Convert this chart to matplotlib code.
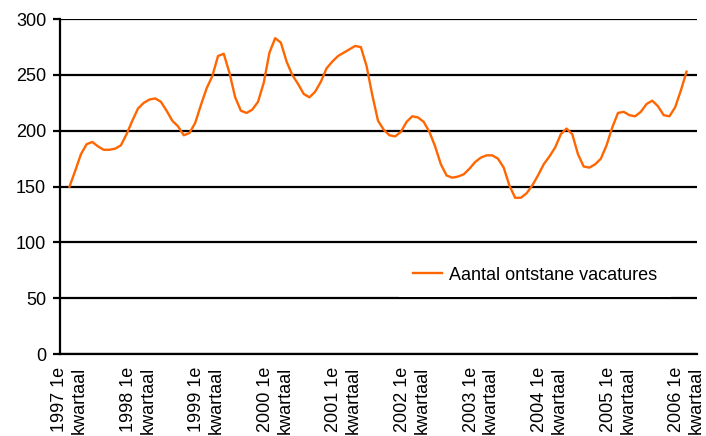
import matplotlib
matplotlib.use("Agg")
import matplotlib.pyplot as plt
import numpy as np

matplotlib.rcParams['font.family'] = ['Liberation Sans', 'DejaVu Sans']
matplotlib.rcParams['font.size'] = 13

# monthly values, January 1997 .. January 2006
vacatures = [
    150, 164, 179, 188, 190, 186, 183, 183, 184, 187, 197, 209,
    220, 225, 228, 229, 226, 218, 209, 204, 196, 198, 207, 223,
    238, 249, 267, 269, 252, 230, 218, 216, 219, 226, 243, 270,
    283, 279, 262, 250, 242, 233, 230, 235, 244, 256, 262, 267,
    270, 273, 276, 275, 258, 232, 209, 201, 196, 195, 199, 208,
    213, 212, 208, 199, 186, 170, 160, 158, 159, 161, 166, 172,
    176, 178, 178, 175, 167, 151, 140, 140, 144, 151, 160, 170,
    177, 185, 197, 202, 197, 179, 168, 167, 170, 175, 187, 203,
    216, 217, 214, 213, 217, 224, 227, 222, 214, 213, 221, 236,
    253,
]
start_year = 1997
label_years = list(range(1997, 2007))
tick_labels = [f"{y} 1e\nkwartaal" for y in label_years]
series_name = "Aantal ontstane vacatures"

t = start_year + np.arange(len(vacatures)) / 12.0

fig = plt.figure(figsize=(7.06, 4.36), dpi=100)
ax = fig.add_axes([0.085, 0.188, 0.902, 0.768])

ax.plot(t, vacatures, color='#FF6600', lw=1.7, label=series_name, zorder=3,
        solid_joinstyle='round')

ax.set_xlim(1996.862, 2006.15)
ax.set_ylim(0, 300)
ax.set_yticks(range(0, 301, 50))
ax.set_xticks(label_years)
ax.set_xticklabels(tick_labels)
for lbl in ax.get_xticklabels():
    lbl.set_rotation(90)
    lbl.set_ha('center')
    lbl.set_va('top')
    lbl.set_multialignment('right')
    lbl.set_linespacing(1.2)

ax.grid(axis='y', color='black', lw=1.6, zorder=1)
ax.set_axisbelow(True)
for side in ('top', 'right'):
    ax.spines[side].set_visible(False)
for side in ('left', 'bottom'):
    ax.spines[side].set_linewidth(1.6)
ax.tick_params(axis='y', length=5, width=1.6, pad=5, colors='black')
ax.tick_params(axis='x', length=0, pad=9)

# white legend box, its lower edge resting on the 50 gridline
ax.legend(loc='center', bbox_to_anchor=(0.746, 0.236),
          frameon=True, facecolor='white', edgecolor='none', framealpha=1,
          fancybox=False, borderpad=0.75, handlelength=1.6, handletextpad=0.4)

fig.savefig("out.png", dpi=100)
